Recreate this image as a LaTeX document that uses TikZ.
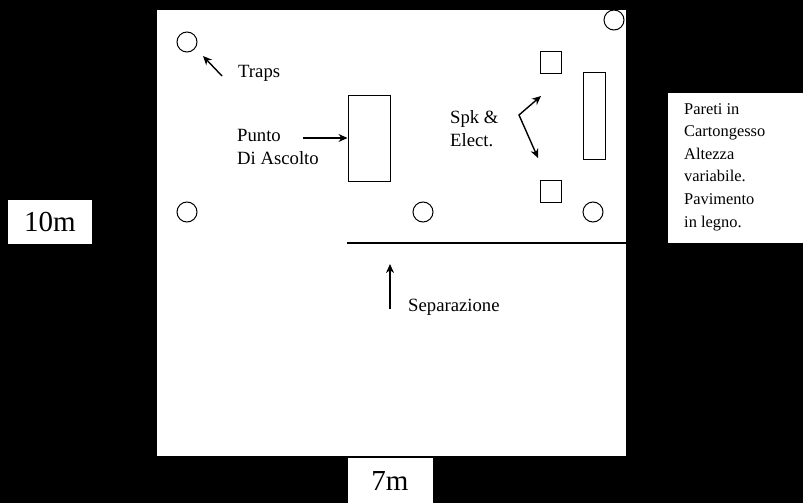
\documentclass[tikz,border=0pt]{standalone}
\usepackage{fontspec}
\usetikzlibrary{arrows.meta}
\setmainfont{Liberation Serif}
\begin{document}
\begin{tikzpicture}[x=1pt,y=-1pt,
  obj/.style={draw=black,line width=1pt},
  arr/.style={line width=1.4pt,-{Stealth[length=9pt,width=8pt]}},
  lab/.style={font=\fontsize{18.7}{23}\selectfont,align=left,inner sep=0}]
\useasboundingbox (0,0) rectangle (803,503);
\fill[black] (0,0) rectangle (803,503);
\fill[white] (157,10) rectangle (626,456);
\foreach \n/\x/\y in {c1/187/42,c2/614/20,c3/187/212,c4/423/212,c5/593/212}
  \draw[obj] (\x,\y) circle (10) coordinate (\n);
\draw[obj] (540,52) rectangle (561,74);
\draw[obj] (540,180) rectangle (561,202);
\draw[obj] (583,73) rectangle (605,159);
\node[obj,minimum width=42,minimum height=86,inner sep=0] (lp) at (369,138) {};
\draw[line width=1.2pt] (347,243) -- (626,243);
\node[lab,anchor=west] (traps) at (238,73) {Traps};
\coordinate (ta) at (222,76);
\draw[arr] (ta) -- (203,56);
\node[lab,anchor=west] (punto) at (237,147) {Punto\\Di Ascolto};
\coordinate (pa) at (303,138);
\draw[arr] (pa) -- (lp.west);
\node[lab,anchor=west] (spk) at (450,129) {Spk \&\\Elect.};
\draw[line width=1.4pt,{Stealth[length=9pt,width=8pt]}-{Stealth[length=9pt,width=8pt]}] (541,96) -- (519,115) -- (538,158);
\coordinate (sa) at (390,309);
\draw[arr] (sa) -- (390,264);
\node[lab,anchor=west] (sep) at (408,307) {Separazione};
\node[fill=white,minimum width=84,minimum height=44,inner sep=0,font=\fontsize{29}{34}\selectfont] (w10) at (50,222) {10m};
\node[fill=white,minimum width=85,minimum height=46,inner sep=0,font=\fontsize{29}{34}\selectfont] (w7) at (390,481) {7m};
\fill[white] (668,93) rectangle (803,243);
\node[lab,anchor=north west,font=\fontsize{16.4}{22.6}\selectfont] (note) at (684,103) {Pareti in\\Cartongesso\\Altezza\\variabile.\\Pavimento\\in legno.};
\end{tikzpicture}
\end{document}
